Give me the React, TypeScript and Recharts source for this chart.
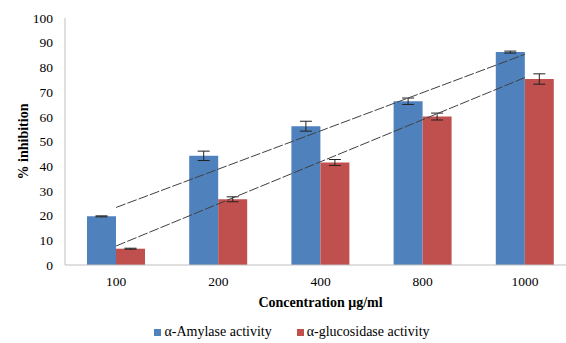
import React from 'react';
import {
  ComposedChart,
  Bar,
  Line,
  XAxis,
  YAxis,
  ErrorBar,
  Legend,
} from 'recharts';

// 濃度カテゴリ
const concentrations = ['100', '200', '400', '800', '1000'];

// α-アミラーゼ阻害率と誤差
const amylase = [19.7, 44.2, 56.2, 66.3, 86.2];
const amylaseErr = [0.2, 1.9, 2.0, 1.3, 0.4];

// α-グルコシダーゼ阻害率と誤差
const glucosidase = [6.6, 26.6, 41.5, 60.1, 75.3];
const glucosidaseErr = [0.2, 1.0, 1.2, 1.4, 2.1];

// 近似直線（両端のみ、図から読み取り）
const amylaseTrend = [23.3, null, null, null, 85.3];
const glucosidaseTrend = [7.7, null, null, null, 75.9];

const yTicks = [0, 10, 20, 30, 40, 50, 60, 70, 80, 90, 100];

const data = concentrations.map((c, i) => ({
  name: c,
  amylase: amylase[i],
  amylaseErr: amylaseErr[i],
  glucosidase: glucosidase[i],
  glucosidaseErr: glucosidaseErr[i],
  amylaseTrend: amylaseTrend[i],
  glucosidaseTrend: glucosidaseTrend[i],
}));

const FONT = '"Liberation Serif", "Times New Roman", serif';
const BLUE = '#4F81BD';
const RED = '#C0504D';

function CustomLegend() {
  const items = [
    { label: 'α-Amylase activity', color: BLUE },
    { label: 'α-glucosidase activity', color: RED },
  ];
  return (
    <div
      style={{
        display: 'flex',
        justifyContent: 'center',
        gap: 25,
        paddingTop: 11,
        paddingLeft: 8,
        fontFamily: FONT,
        fontSize: 14,
        color: '#000',
      }}
    >
      {items.map((it) => (
        <span key={it.label} style={{ display: 'inline-flex', alignItems: 'center' }}>
          <span
            style={{
              display: 'inline-block',
              width: 7,
              height: 7,
              background: it.color,
              marginRight: 3,
            }}
          />
          {it.label}
        </span>
      ))}
    </div>
  );
}

export default function App() {
  return (
    <div
      style={{
        position: 'absolute',
        left: 0,
        top: 0,
        width: 566,
        height: 343,
        overflow: 'hidden',
        background: '#fff',
      }}
    >
      <ComposedChart
        width={578}
        height={343}
        data={data}
        margin={{ top: 18, right: 2, bottom: 0, left: 0 }}
        barCategoryGap={22}
        barGap={0}
      >
        <XAxis
          dataKey="name"
          tickLine={false}
          axisLine={{ stroke: '#bfbfbf' }}
          tick={{ fill: '#000', fontSize: 13.5, fontFamily: FONT }}
          tickMargin={5}
          height={48}
          label={{
            value: 'Concentration  μg/ml',
            position: 'center',
            dy: 13,
            style: { fontFamily: FONT, fontSize: 14, fontWeight: 'bold', fill: '#000' },
          }}
        />
        <YAxis
          domain={[0, 100]}
          ticks={yTicks}
          interval={0}
          tickLine={false}
          axisLine={{ stroke: '#bfbfbf' }}
          tick={{ fill: '#000', fontSize: 13.5, fontFamily: FONT }}
          tickMargin={6}
          width={65}
          label={{
            value: '% inhibition',
            angle: -90,
            position: 'center',
            dx: -9,
            style: { fontFamily: FONT, fontSize: 14, fontWeight: 'bold', fill: '#000', textAnchor: 'middle' },
          }}
        />
        <Bar dataKey="amylase" name="α-Amylase activity" fill={BLUE} isAnimationActive={false}>
          <ErrorBar dataKey="amylaseErr" width={6} stroke="#222" strokeWidth={1} />
        </Bar>
        <Bar dataKey="glucosidase" name="α-glucosidase activity" fill={RED} isAnimationActive={false}>
          <ErrorBar dataKey="glucosidaseErr" width={6} stroke="#222" strokeWidth={1} />
        </Bar>
        <Line
          dataKey="amylaseTrend"
          stroke="#404040"
          strokeWidth={1}
          strokeDasharray="10 2"
          dot={false}
          activeDot={false}
          connectNulls
          legendType="none"
          isAnimationActive={false}
        />
        <Line
          dataKey="glucosidaseTrend"
          stroke="#404040"
          strokeWidth={1}
          strokeDasharray="10 2"
          dot={false}
          activeDot={false}
          connectNulls
          legendType="none"
          isAnimationActive={false}
        />
        <Legend verticalAlign="bottom" height={30} content={<CustomLegend />} />
      </ComposedChart>
    </div>
  );
}
